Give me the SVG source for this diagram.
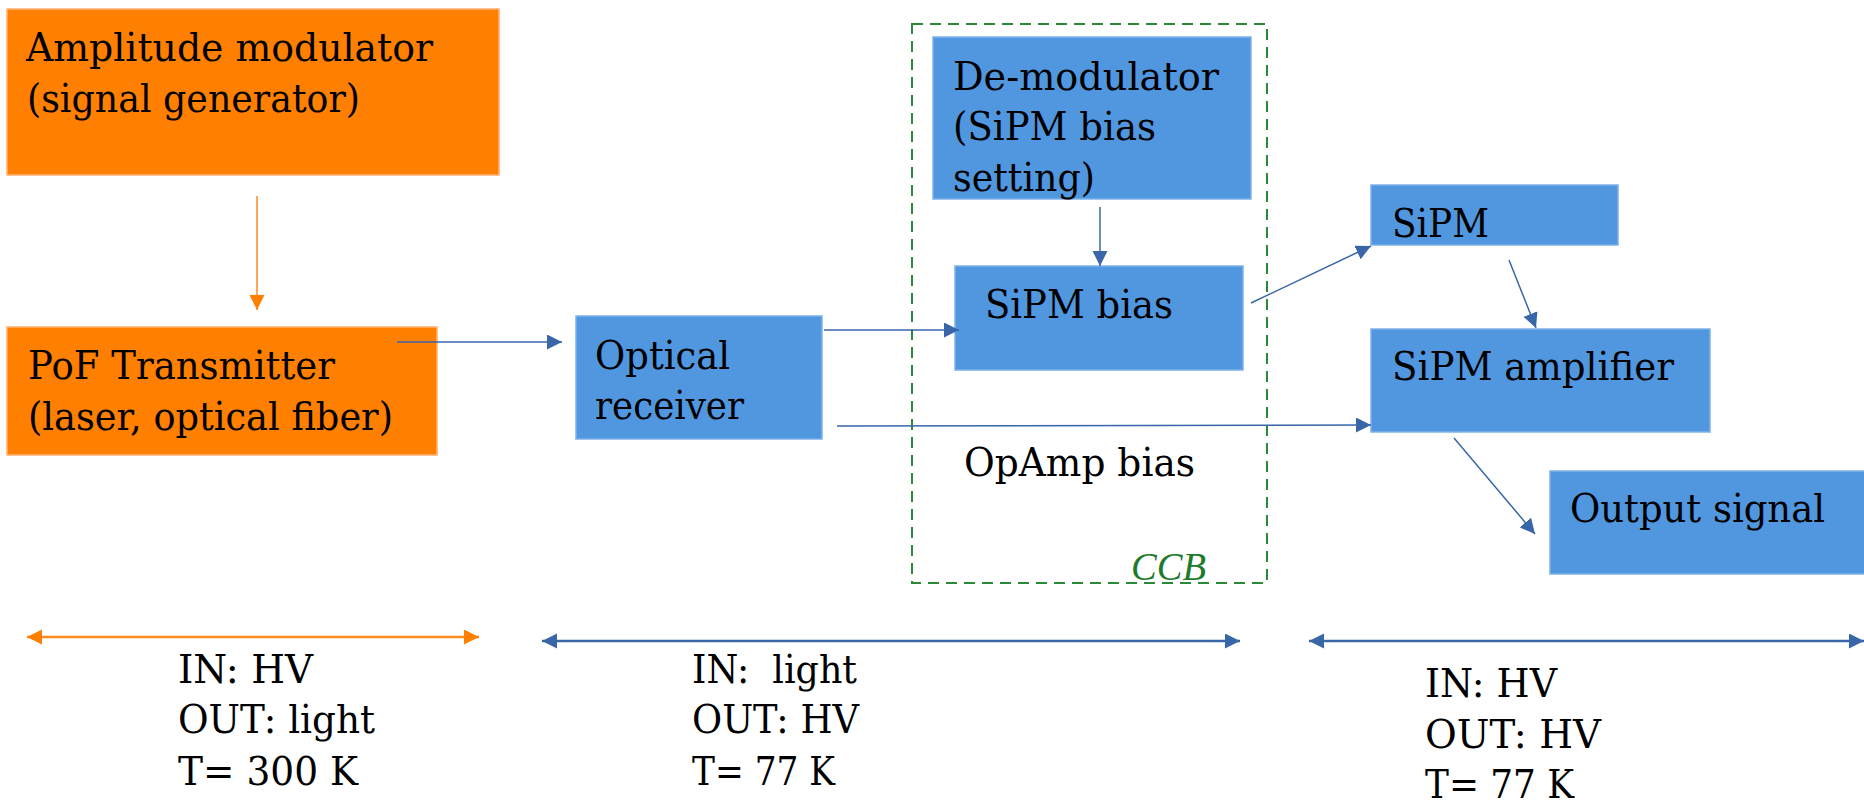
<svg xmlns="http://www.w3.org/2000/svg" width="1864" height="806" viewBox="0 0 1864 806">
<style>
.orange{fill:#FF7F00;stroke:#FFB070;stroke-width:1.5}
.blue{fill:#5097E0;stroke:#7DB2EA;stroke-width:1.5}
.t{font-family:'DejaVu Serif','Liberation Serif',serif;font-size:40px;fill:#000000}
.ccb{font-family:'Liberation Serif',serif;font-size:40px;font-style:italic;fill:#1E7B2C}
.lb{stroke:#3866A8;stroke-width:1.5;fill:none}
.lo{stroke:#FF8A1F;stroke-width:1.5;fill:none}
.db{stroke:#3866A8;stroke-width:2.5;fill:none}
.do{stroke:#FF8A1F;stroke-width:2.5;fill:none}
.dash{fill:none;stroke:#2A8A3A;stroke-width:2;stroke-dasharray:11 7}
</style>
<defs>
<marker id="ab" markerUnits="userSpaceOnUse" markerWidth="16" markerHeight="16" refX="15" refY="7.5" orient="auto-start-reverse" viewBox="0 0 16 16">
<path d="M0,0 L15,7.5 L0,15 Z" fill="#3866A8"/>
</marker>
<marker id="ao" markerUnits="userSpaceOnUse" markerWidth="16" markerHeight="16" refX="15" refY="7.5" orient="auto-start-reverse" viewBox="0 0 16 16">
<path d="M0,0 L15,7.5 L0,15 Z" fill="#FF7F00"/>
</marker>
</defs>
<rect x="0" y="0" width="1864" height="806" fill="#ffffff"/>

<g id="amplitude-modulator">
<rect class="orange" x="7" y="9" width="492" height="166"/>
<text class="t" x="26" y="61" textLength="407" lengthAdjust="spacingAndGlyphs">Amplitude modulator</text>
<text class="t" x="27" y="112" textLength="333" lengthAdjust="spacingAndGlyphs">(signal generator)</text>
</g>

<g id="pof-transmitter">
<rect class="orange" x="7" y="327" width="430" height="128"/>
<text class="t" x="28" y="379" textLength="307" lengthAdjust="spacingAndGlyphs">PoF Transmitter</text>
<text class="t" x="28" y="430" textLength="365" lengthAdjust="spacingAndGlyphs">(laser, optical fiber)</text>
</g>

<g id="optical-receiver">
<rect class="blue" x="576" y="316" width="246" height="123"/>
<text class="t" x="595" y="369" textLength="135" lengthAdjust="spacingAndGlyphs">Optical</text>
<text class="t" x="595" y="419" textLength="149" lengthAdjust="spacingAndGlyphs">receiver</text>
</g>

<g id="ccb">
<rect class="dash" x="912" y="24" width="355" height="559"/>
<text class="ccb" x="1131" y="580" textLength="75" lengthAdjust="spacingAndGlyphs">CCB</text>
</g>

<g id="de-modulator">
<rect class="blue" x="933" y="37" width="318" height="162"/>
<text class="t" x="953" y="90" textLength="266" lengthAdjust="spacingAndGlyphs">De-modulator</text>
<text class="t" x="953" y="140" textLength="203" lengthAdjust="spacingAndGlyphs">(SiPM bias</text>
<text class="t" x="953" y="191" textLength="142" lengthAdjust="spacingAndGlyphs">setting)</text>
</g>

<g id="sipm-bias">
<rect class="blue" x="955" y="266" width="288" height="104"/>
<text class="t" x="985" y="318" textLength="188" lengthAdjust="spacingAndGlyphs">SiPM bias</text>
</g>

<g id="sipm">
<rect class="blue" x="1371" y="185" width="247" height="60"/>
<text class="t" x="1392" y="237" textLength="97" lengthAdjust="spacingAndGlyphs">SiPM</text>
</g>

<g id="sipm-amplifier">
<rect class="blue" x="1371" y="329" width="339" height="103"/>
<text class="t" x="1392" y="380" textLength="282" lengthAdjust="spacingAndGlyphs">SiPM amplifier</text>
</g>

<g id="output-signal">
<rect class="blue" x="1550" y="471" width="316" height="103"/>
<text class="t" x="1570" y="522" textLength="255" lengthAdjust="spacingAndGlyphs">Output signal</text>
</g>

<g id="opamp-bias-label">
<text class="t" x="964" y="476" textLength="231" lengthAdjust="spacingAndGlyphs">OpAmp bias</text>
</g>

<g id="connectors">
<line class="lo" x1="257" y1="196" x2="257" y2="310" marker-end="url(#ao)"/>
<line class="lb" x1="397" y1="342" x2="562" y2="342" marker-end="url(#ab)"/>
<line class="lb" x1="824" y1="330" x2="959" y2="330" marker-end="url(#ab)"/>
<line class="lb" x1="1100" y1="207" x2="1100" y2="266" marker-end="url(#ab)"/>
<line class="lb" x1="1251" y1="303" x2="1371" y2="246" marker-end="url(#ab)"/>
<line class="lb" x1="1509" y1="260" x2="1536" y2="328" marker-end="url(#ab)"/>
<line class="lb" x1="837" y1="426" x2="1371" y2="425" marker-end="url(#ab)"/>
<line class="lb" x1="1454" y1="438" x2="1535" y2="534" marker-end="url(#ab)"/>
<line class="do" x1="27" y1="637" x2="479" y2="637" marker-start="url(#ao)" marker-end="url(#ao)"/>
<line class="db" x1="542" y1="641" x2="1240" y2="641" marker-start="url(#ab)" marker-end="url(#ab)"/>
<line class="db" x1="1309" y1="641" x2="1864" y2="641" marker-start="url(#ab)" marker-end="url(#ab)"/>
</g>

<g id="zone-300k">
<text class="t" x="178" y="683" textLength="135" lengthAdjust="spacingAndGlyphs">IN: HV</text>
<text class="t" x="178" y="733" textLength="197" lengthAdjust="spacingAndGlyphs">OUT: light</text>
<text class="t" x="178" y="785" textLength="180" lengthAdjust="spacingAndGlyphs">T= 300 K</text>
</g>

<g id="zone-77k-a">
<text class="t" x="692" y="683" textLength="165" lengthAdjust="spacingAndGlyphs" xml:space="preserve">IN:  light</text>
<text class="t" x="692" y="733" textLength="167" lengthAdjust="spacingAndGlyphs">OUT: HV</text>
<text class="t" x="692" y="785" textLength="143" lengthAdjust="spacingAndGlyphs">T= 77 K</text>
</g>

<g id="zone-77k-b">
<text class="t" x="1425" y="697" textLength="132" lengthAdjust="spacingAndGlyphs">IN: HV</text>
<text class="t" x="1425" y="748" textLength="176" lengthAdjust="spacingAndGlyphs">OUT: HV</text>
<text class="t" x="1425" y="798" textLength="149" lengthAdjust="spacingAndGlyphs">T= 77 K</text>
</g>
</svg>
